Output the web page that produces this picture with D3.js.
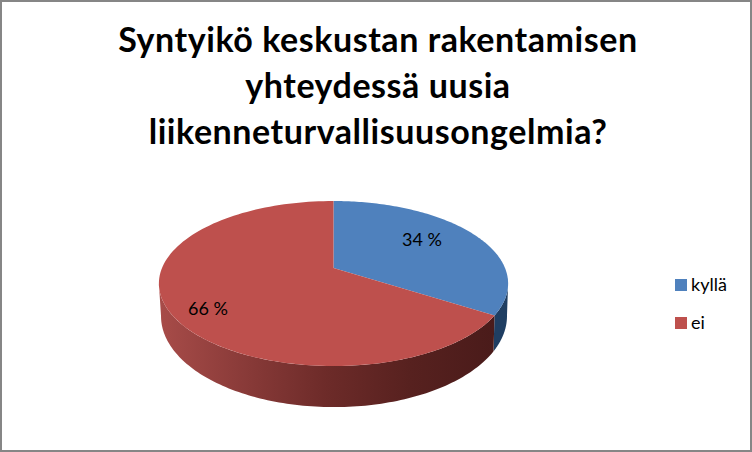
<!DOCTYPE html>
<html>
<head>
<meta charset="utf-8">
<script src="https://cdn.jsdelivr.net/npm/d3@7"></script>
<style>
    html, body { margin: 0; padding: 0; background: #fff; }
    svg { display: block; }
    text { font-family: Lato, "Open Sans", sans-serif; fill: #000; }
</style>
</head>
<body>
<div id="chart"></div>
<script>
const titleLines = ['Syntyikö keskustan rakentamisen', 'yhteydessä uusia', 'liikenneturvallisuusongelmia?'];
const categories = ['kyllä', 'ei'];
const shares = [34, 66];
const sliceColors = ['#4f81bd', '#be504d'];

const width = 752;
const height = 452;

const svg = d3.select('#chart')
    .append('svg')
    .attr('width', width)
    .attr('height', height);

svg.append('rect')
    .attr('width', width)
    .attr('height', height)
    .attr('fill', '#fff');

// Grey frame round the whole chart
svg.append('rect')
    .attr('x', 1)
    .attr('y', 1)
    .attr('width', width - 2)
    .attr('height', height - 2)
    .attr('fill', 'none')
    .attr('stroke', '#868686')
    .attr('stroke-width', 2);

// Title
svg.append('g')
    .selectAll('text')
    .data(titleLines)
    .enter()
    .append('text')
    .attr('x', 378)
    .attr('y', (d, i) => 52 + i * 46)
    .attr('text-anchor', 'middle')
    .attr('font-size', 34)
    .attr('font-weight', 700)
    .attr('letter-spacing', 0.55)
    .text(d => d);

// Tilted pie: perspective projection of a flat circle.
// The lower disc is seen a little more open than the top one.
const tilt = -0.188;
const topDisc = { x: 333.5, y: 268, a: 171.5, b: 79.6 };
const lowDisc = { x: 334, y: 299, a: 169.9, b: 87.8 };

function project(disc, angle) {
    const u = Math.sin(angle);
    const v = -Math.cos(angle);
    const w = 1 + tilt * v;
    return [disc.x + disc.a * u / w, disc.y + disc.b * v / w];
}

const arcs = d3.pie().sort(null)(shares);
const line = d3.line();

function edge(disc, start, end) {
    return d3.range(0, 121).map(i => project(disc, start + (end - start) * i / 120));
}

function sidePath(start, end) {
    const top = edge(topDisc, start, end);
    const bottom = edge(lowDisc, start, end).reverse();
    return line(top.concat(bottom)) + 'Z';
}

const defs = svg.append('defs');
const sideGradient = defs.append('linearGradient')
    .attr('id', 'redSide')
    .attr('gradientUnits', 'userSpaceOnUse')
    .attr('x1', 158).attr('x2', 494)
    .attr('y1', 0).attr('y2', 0);
[[0, '#a84c49'], [0.25, '#8a3b39'], [0.5, '#6d2b29'], [0.75, '#57211f'], [1, '#4a1b1a']].forEach(s => {
    sideGradient.append('stop').attr('offset', s[0]).attr('stop-color', s[1]);
});

// Visible rims run between the two silhouette angles of the disc
const rightLimit = Math.acos(tilt);
const leftLimit = Math.PI * 2 - rightLimit;
const blueArc = arcs[0];
const redArc = arcs[1];
svg.append('path')
    .attr('d', sidePath(rightLimit, blueArc.endAngle))
    .attr('fill', '#1f3e62');
svg.append('path')
    .attr('d', sidePath(redArc.startAngle, leftLimit))
    .attr('fill', 'url(#redSide)');

// Top face
svg.append('g')
    .selectAll('path')
    .data(arcs)
    .enter()
    .append('path')
    .attr('d', d => {
        const pts = edge(topDisc, d.startAngle, d.endAngle);
        return line([[topDisc.x, topDisc.y]].concat(pts)) + 'Z';
    })
    .attr('fill', (d, i) => sliceColors[i]);

// Data labels
const labelSpots = [[422, 246], [208, 315]];
svg.append('g')
    .selectAll('text')
    .data(shares)
    .enter()
    .append('text')
    .attr('x', (d, i) => labelSpots[i][0])
    .attr('y', (d, i) => labelSpots[i][1])
    .attr('text-anchor', 'middle')
    .attr('font-size', 18)
    .text(d => d + ' %');

// Legend
const legend = svg.append('g')
    .selectAll('g')
    .data(categories)
    .enter()
    .append('g')
    .attr('transform', (d, i) => `translate(675,${279 + i * 38})`);

legend.append('rect')
    .attr('width', 12)
    .attr('height', 12)
    .attr('fill', (d, i) => sliceColors[i]);

legend.append('text')
    .attr('x', 16)
    .attr('y', 12)
    .attr('font-size', 18)
    .text(d => d);
</script>
</body>
</html>
